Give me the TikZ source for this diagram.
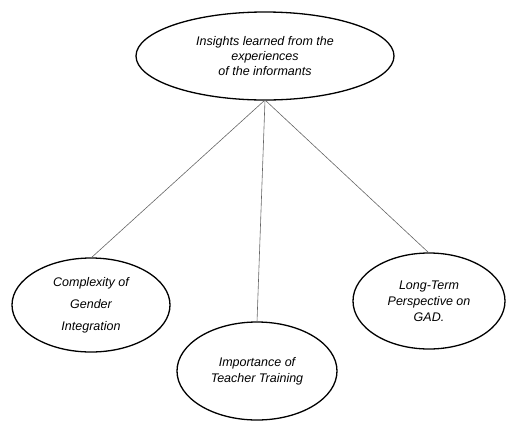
\documentclass[tikz,border=0pt]{standalone}
\usepackage{fontspec}
\setmainfont{Liberation Sans}
\usetikzlibrary{shapes.geometric}

\begin{document}
\begin{tikzpicture}[x=1pt,y=-1pt]
	\tikzset{theme/.style={ellipse,draw,line width=1.3pt,inner sep=0pt,outer sep=0pt,align=center,font=\fontsize{12.5}{15}\selectfont\itshape}}
	\tikzset{link/.style={draw=black!60,line width=0.6pt}}
	\useasboundingbox (0,0) rectangle (506,421);
	% main ellipse
	\node[theme,minimum width=258pt,minimum height=88pt] (insights) at (265,56) {Insights learned from the\\experiences\\of the informants};
	% the three insights
	\node[theme,minimum width=158pt,minimum height=94pt,font=\fontsize{12.5}{22}\selectfont\itshape] (complexity) at (91,305) {Complexity of\\Gender\\Integration};
	\node[theme,minimum width=160pt,minimum height=98pt,font=\fontsize{12.5}{16}\selectfont\itshape] (training) at (257,371) {Importance of\\Teacher Training};
	\node[theme,minimum width=152pt,minimum height=96pt,font=\fontsize{12.5}{16}\selectfont\itshape] (gad) at (429,301) {Long-Term\\Perspective on\\GAD.};
	\draw[link] (insights.south) -- (complexity.north);
	\draw[link] (insights.south) -- (training.north);
	\draw[link] (insights.south) -- (gad.north);
\end{tikzpicture}
\end{document}
